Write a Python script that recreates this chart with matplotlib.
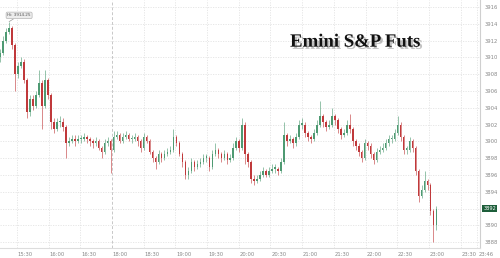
import matplotlib
matplotlib.use("Agg")
import matplotlib.pyplot as plt
import matplotlib.patheffects as pe
import numpy as np

# ---- data (3-minute-ish candles) ----
first_open = 3910.0
closes = [3910.5, 3912.0, 3913.0, 3913.5, 3911.5, 3908.0, 3909.0, 3909.5, 3907.25, 3903.5,
          3905.0, 3904.25, 3905.5, 3907.0, 3904.25, 3907.25, 3905.5, 3902.25, 3901.5, 3902.25,
          3902.25, 3901.75, 3899.75, 3900.0, 3900.25, 3900.0, 3900.25, 3900.25, 3900.5, 3900.25,
          3900.0, 3899.75, 3900.0, 3899.25, 3898.75, 3899.75, 3900.0, 3899.0, 3900.5, 3900.75,
          3900.0, 3900.5, 3900.75, 3900.25, 3900.25, 3900.5, 3900.0, 3899.25, 3900.5, 3900.0,
          3898.75, 3898.0, 3897.5, 3898.5, 3898.0, 3898.5, 3898.75, 3899.0, 3900.5, 3899.75,
          3898.5, 3897.5, 3896.0, 3896.5, 3897.5, 3897.0, 3897.25, 3897.5, 3898.0, 3898.0,
          3897.0, 3898.5, 3899.0, 3898.5, 3898.0, 3898.5, 3897.75, 3898.0, 3899.25, 3900.0,
          3899.25, 3902.0, 3898.5, 3897.5, 3895.5, 3895.25, 3895.5, 3896.0, 3896.5, 3896.0,
          3896.5, 3896.75, 3896.75, 3896.5, 3897.5, 3900.75, 3900.0, 3900.25, 3899.75, 3900.5,
          3902.0, 3902.0, 3901.0, 3900.5, 3900.25, 3901.0, 3902.0, 3903.0, 3902.25, 3901.75,
          3902.0, 3903.0, 3902.5, 3901.5, 3900.75, 3901.0, 3902.0, 3901.5, 3900.0, 3899.5,
          3898.75, 3898.0, 3899.75, 3899.5, 3898.5, 3897.75, 3898.75, 3899.0, 3899.25, 3899.75,
          3900.25, 3900.25, 3901.0, 3902.0, 3900.5, 3899.0, 3899.0, 3900.0, 3899.25, 3896.5,
          3893.5, 3894.25, 3895.25, 3894.75, 3891.75, 3890.0, 3892.0]
highs = [3911.0, 3912.5, 3913.5, 3914.25, 3913.75, 3911.75, 3909.5, 3910.0, 3909.75, 3907.5,
         3905.5, 3905.5, 3906.0, 3908.5, 3907.25, 3908.5, 3907.5, 3905.75, 3902.75, 3902.75,
         3903.0, 3902.75, 3902.0, 3900.5, 3900.75, 3900.75, 3900.75, 3900.75, 3901.0, 3900.75,
         3900.5, 3900.25, 3900.5, 3900.25, 3899.5, 3900.25, 3900.5, 3900.25, 3901.25, 3901.25,
         3901.0, 3901.0, 3901.25, 3901.0, 3900.75, 3901.0, 3900.75, 3900.25, 3901.0, 3900.75,
         3900.25, 3899.0, 3898.25, 3899.0, 3898.75, 3899.0, 3899.25, 3899.5, 3901.5, 3900.75,
         3900.0, 3898.75, 3897.75, 3897.0, 3898.0, 3897.75, 3897.75, 3898.0, 3898.5, 3898.5,
         3898.25, 3899.0, 3899.75, 3899.25, 3898.75, 3899.0, 3898.75, 3898.5, 3899.75, 3900.5,
         3900.25, 3902.75, 3902.25, 3898.75, 3897.75, 3896.0, 3896.0, 3896.5, 3897.0, 3896.75,
         3897.0, 3897.25, 3897.25, 3897.0, 3898.0, 3902.25, 3901.0, 3900.75, 3900.5, 3901.0,
         3902.5, 3902.75, 3902.25, 3901.25, 3900.75, 3901.5, 3902.5, 3904.75, 3903.25, 3902.5,
         3902.5, 3904.0, 3903.25, 3902.75, 3901.75, 3901.5, 3902.5, 3903.25, 3901.75, 3900.25,
         3899.75, 3899.0, 3900.25, 3900.0, 3899.75, 3898.75, 3899.25, 3899.5, 3899.75, 3900.25,
         3900.75, 3900.75, 3901.5, 3903.0, 3902.25, 3900.75, 3899.5, 3900.5, 3900.25, 3899.5,
         3896.75, 3894.75, 3896.5, 3895.5, 3895.0, 3892.0, 3892.25]
lows = [3909.5, 3910.25, 3911.75, 3912.75, 3911.0, 3906.0, 3907.5, 3908.75, 3907.0, 3902.75,
        3903.0, 3903.75, 3904.0, 3905.25, 3901.5, 3904.0, 3905.0, 3901.5, 3901.0, 3901.25,
        3901.75, 3901.25, 3898.0, 3899.5, 3899.75, 3899.5, 3899.75, 3899.75, 3900.0, 3899.75,
        3899.5, 3899.25, 3899.5, 3899.0, 3898.0, 3898.5, 3899.5, 3896.25, 3898.75, 3900.25,
        3899.75, 3899.75, 3900.25, 3900.0, 3899.75, 3900.0, 3899.5, 3898.75, 3899.0, 3899.75,
        3898.5, 3897.5, 3896.75, 3897.25, 3897.5, 3897.75, 3898.25, 3898.5, 3898.75, 3899.5,
        3898.25, 3897.0, 3895.5, 3895.5, 3896.25, 3896.5, 3896.75, 3897.0, 3897.25, 3897.5,
        3896.5, 3896.75, 3898.25, 3898.0, 3897.5, 3897.75, 3897.25, 3897.5, 3897.75, 3899.0,
        3898.75, 3899.0, 3897.25, 3897.0, 3895.0, 3894.75, 3895.0, 3895.25, 3895.75, 3895.75,
        3895.75, 3896.25, 3896.25, 3896.0, 3896.25, 3897.25, 3899.5, 3899.75, 3899.25, 3899.5,
        3900.25, 3901.5, 3900.5, 3900.0, 3899.75, 3900.0, 3900.75, 3901.75, 3901.75, 3901.25,
        3901.5, 3901.75, 3902.0, 3901.0, 3900.25, 3900.5, 3900.75, 3901.0, 3899.5, 3899.0,
        3898.25, 3897.5, 3897.75, 3899.0, 3898.0, 3897.25, 3897.5, 3898.5, 3898.75, 3899.0,
        3899.5, 3899.75, 3900.0, 3900.75, 3900.0, 3898.5, 3898.5, 3898.75, 3898.75, 3896.0,
        3892.75, 3893.25, 3894.0, 3894.25, 3891.25, 3888.0, 3889.5]

tick_labels = ["15:30", "16:00", "16:30", "18:00", "18:30", "19:00", "19:30", "20:00",
               "20:30", "21:00", "21:30", "22:00", "22:30", "23:00", "23:30", "23:46"]
y_ticks = list(range(3888, 3917, 2))
title = "Emini S&P Futs"
hi_label = "Hi: 3914.25"
last_price = 3892

# ---- trading-minute axis (17:00-18:00 break removed), 0 = 15:30 ----
def trading_minutes(lbl):
    h, m = map(int, lbl.split(":"))
    t = h * 60 + m - (15 * 60 + 30)
    if h >= 18:
        t -= 60
    return t

tick_pos = [trading_minutes(l) for l in tick_labels]
n = len(closes)
opens = [first_open] + closes[:-1]
step = 2.83
start = -16.0
xs = start + step * np.arange(n)

fig = plt.figure(figsize=(5.0, 2.58), dpi=100)
ax = fig.add_axes([0.0, 10 / 258, 480 / 500, 248 / 258])
ax.set_facecolor("white")

# grid
for y in y_ticks:
    ax.axhline(y, color="#e3e3e3", lw=0.6, ls=(0, (1.5, 1.5)), zorder=0)
for lbl, x in zip(tick_labels, tick_pos):
    if lbl == "18:00":
        ax.axvline(x, color="#c8c8c8", lw=0.7, ls=(0, (3, 2)), zorder=0)
    else:
        ax.axvline(x, color="#e3e3e3", lw=0.6, ls=(0, (1.5, 1.5)), zorder=0)

up_c = "#4e9a72"
dn_c = "#c0393b"
cols = [up_c if c >= o else dn_c for o, c in zip(opens, closes)]
ax.vlines(xs, lows, highs, colors=cols, lw=0.7, alpha=0.6, zorder=2)
bottoms = [min(o, c) for o, c in zip(opens, closes)]
heights = [max(abs(c - o), 0.2) for o, c in zip(opens, closes)]
ax.bar(xs, heights, bottom=bottoms, width=step * 0.5, color=cols, edgecolor="none", zorder=3)

ax.set_xlim(-16.1, 438.4)
ax.set_ylim(3887.3, 3916.83)

# x labels (left aligned at gridlines)
ax.set_xticks([])
for lbl, x in zip(tick_labels, tick_pos):
    ax.text(x + 0.8, -0.015, lbl, transform=ax.get_xaxis_transform(), ha="left", va="top",
            fontsize=3.8, color="#888888", clip_on=False)

# y labels on right (the last-price tag replaces its own level's label)
ax.yaxis.tick_right()
ax.set_yticks(y_ticks)
ax.set_yticklabels(["" if v == last_price else str(v) for v in y_ticks])
ax.tick_params(axis="y", length=0, pad=3, labelsize=3.8, labelcolor="#888888")

for s in ["top", "left"]:
    ax.spines[s].set_visible(False)
ax.spines["right"].set_color("#cfcfcf")
ax.spines["right"].set_linewidth(0.8)
ax.spines["bottom"].set_color("#dddddd")
ax.spines["bottom"].set_linewidth(0.8)

# Hi label
hi_idx = int(np.argmax(highs))
ax.annotate(hi_label, xy=(xs[hi_idx], highs[hi_idx]), xytext=(2.0, 3915.0),
            fontsize=3.0, color="#555555", ha="center", va="center",
            bbox=dict(boxstyle="round,pad=0.3,rounding_size=0.35", fc="#ececec", ec="#b5b5b5", lw=0.5),
            arrowprops=dict(arrowstyle="-", color="#999999", lw=0.5, shrinkA=0, shrinkB=0), zorder=5)

# last price tag
ax.text(1.007, last_price, str(last_price), transform=ax.get_yaxis_transform(), ha="left",
        va="center", fontsize=3.6, color="white", clip_on=False,
        bbox=dict(boxstyle="square,pad=0.25", fc="#1d5e3a", ec="none"), zorder=6)

# title with shadow
ax.text(0.74, 0.83, title, transform=ax.transAxes, ha="center", va="center",
        fontsize=13.5, fontweight="bold", family="Liberation Serif", color="#111111",
        path_effects=[pe.withSimplePatchShadow(offset=(1.6, -1.6), shadow_rgbFace="#777777", alpha=0.45)])

fig.savefig("out.png", dpi=100, facecolor="white")
